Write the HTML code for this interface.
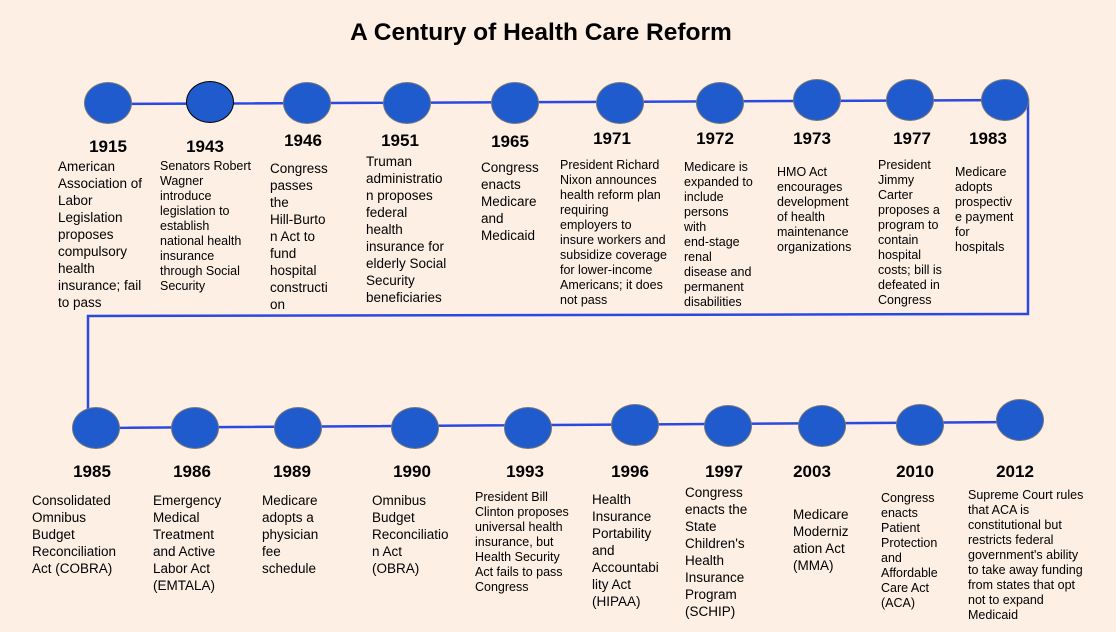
<!DOCTYPE html>
<html><head><meta charset="utf-8">
<style>
body{margin:0;width:1116px;height:632px;background:#fdefe4;position:relative;overflow:hidden;font-family:"Liberation Sans",Arial,sans-serif;color:#000}
.t{position:absolute;white-space:nowrap;font-size:13.5px;line-height:17px}
.s{font-size:12.5px;line-height:15px}
.y{position:absolute;font-weight:bold;font-size:17px;transform:translateX(-50%)}
.c{position:absolute;width:46px;height:40px;border-radius:50%;background:#1f5bcc;border:1.5px solid #777;transform:translate(-50%,-50%)}
h1{position:absolute;left:0;width:1082px;top:19px;margin:0;text-align:center;font-size:24.5px;font-weight:bold}
</style></head><body>
<h1>A Century of Health Care Reform</h1>
<svg width="1116" height="632" style="position:absolute;left:0;top:0">
<polyline points="108,104 1028,100 1028,314 88,316 88,428 1020,422" fill="none" stroke="#2a49e0" stroke-width="2.5"/>
</svg>
<div class="c" style="left:108px;top:103px"></div>
<div class="c" style="left:210px;top:102px;border-color:#000"></div>
<div class="c" style="left:307px;top:103px"></div>
<div class="c" style="left:407px;top:103px"></div>
<div class="c" style="left:515px;top:103px"></div>
<div class="c" style="left:620px;top:103px"></div>
<div class="c" style="left:720px;top:103px"></div>
<div class="c" style="left:817px;top:100px"></div>
<div class="c" style="left:910px;top:100px"></div>
<div class="c" style="left:1005px;top:100px"></div>
<div class="c" style="left:96px;top:428px"></div>
<div class="c" style="left:195px;top:428px"></div>
<div class="c" style="left:298px;top:428px"></div>
<div class="c" style="left:415px;top:428px"></div>
<div class="c" style="left:528px;top:428px"></div>
<div class="c" style="left:635px;top:425px"></div>
<div class="c" style="left:728px;top:426px"></div>
<div class="c" style="left:822px;top:426px"></div>
<div class="c" style="left:920px;top:425px"></div>
<div class="c" style="left:1020px;top:420px"></div>

<div class="y" style="left:108px;top:137px">1915</div>
<div class="y" style="left:205px;top:137px">1943</div>
<div class="y" style="left:303px;top:131px">1946</div>
<div class="y" style="left:400px;top:131px">1951</div>
<div class="y" style="left:510px;top:132px">1965</div>
<div class="y" style="left:612px;top:129px">1971</div>
<div class="y" style="left:715px;top:129px">1972</div>
<div class="y" style="left:812px;top:129px">1973</div>
<div class="y" style="left:912px;top:129px">1977</div>
<div class="y" style="left:988px;top:129px">1983</div>
<div class="y" style="left:92px;top:462px">1985</div>
<div class="y" style="left:192px;top:462px">1986</div>
<div class="y" style="left:292px;top:462px">1989</div>
<div class="y" style="left:412px;top:462px">1990</div>
<div class="y" style="left:525px;top:462px">1993</div>
<div class="y" style="left:630px;top:462px">1996</div>
<div class="y" style="left:724px;top:462px">1997</div>
<div class="y" style="left:812px;top:462px">2003</div>
<div class="y" style="left:915px;top:462px">2010</div>
<div class="y" style="left:1015px;top:462px">2012</div>

<div class="t" style="left:58px;top:158px">American<br>Association of<br>Labor<br>Legislation<br>proposes<br>compulsory<br>health<br>insurance; fail<br>to pass</div>
<div class="t s" style="left:160px;top:159px">Senators Robert<br>Wagner<br>introduce<br>legislation to<br>establish<br>national health<br>insurance<br>through Social<br>Security</div>
<div class="t" style="left:270px;top:160px">Congress<br>passes<br>the<br>Hill-Burto<br>n Act to<br>fund<br>hospital<br>constructi<br>on</div>
<div class="t" style="left:366px;top:153px">Truman<br>administratio<br>n proposes<br>federal<br>health<br>insurance for<br>elderly Social<br>Security<br>beneficiaries</div>
<div class="t" style="left:481px;top:159px">Congress<br>enacts<br>Medicare<br>and<br>Medicaid</div>
<div class="t s" style="left:560px;top:158px">President Richard<br>Nixon announces<br>health reform plan<br>requiring<br>employers to<br>insure workers and<br>subsidize coverage<br>for lower-income<br>Americans; it does<br>not pass</div>
<div class="t s" style="left:684px;top:160px">Medicare is<br>expanded to<br>include<br>persons<br>with<br>end-stage<br>renal<br>disease and<br>permanent<br>disabilities</div>
<div class="t s" style="left:777px;top:165px">HMO Act<br>encourages<br>development<br>of health<br>maintenance<br>organizations</div>
<div class="t s" style="left:878px;top:158px">President<br>Jimmy<br>Carter<br>proposes a<br>program to<br>contain<br>hospital<br>costs; bill is<br>defeated in<br>Congress</div>
<div class="t s" style="left:955px;top:165px">Medicare<br>adopts<br>prospectiv<br>e payment<br>for<br>hospitals</div>

<div class="t" style="left:32px;top:492px">Consolidated<br>Omnibus<br>Budget<br>Reconciliation<br>Act (COBRA)</div>
<div class="t" style="left:153px;top:492px">Emergency<br>Medical<br>Treatment<br>and Active<br>Labor Act<br>(EMTALA)</div>
<div class="t" style="left:262px;top:492px">Medicare<br>adopts a<br>physician<br>fee<br>schedule</div>
<div class="t" style="left:372px;top:492px">Omnibus<br>Budget<br>Reconciliatio<br>n Act<br>(OBRA)</div>
<div class="t s" style="left:475px;top:490px">President Bill<br>Clinton proposes<br>universal health<br>insurance, but<br>Health Security<br>Act fails to pass<br>Congress</div>
<div class="t" style="left:592px;top:491px">Health<br>Insurance<br>Portability<br>and<br>Accountabi<br>lity Act<br>(HIPAA)</div>
<div class="t" style="left:685px;top:484px">Congress<br>enacts the<br>State<br>Children's<br>Health<br>Insurance<br>Program<br>(SCHIP)</div>
<div class="t" style="left:793px;top:506px">Medicare<br>Moderniz<br>ation Act<br>(MMA)</div>
<div class="t s" style="left:881px;top:491px">Congress<br>enacts<br>Patient<br>Protection<br>and<br>Affordable<br>Care Act<br>(ACA)</div>
<div class="t s" style="left:968px;top:488px">Supreme Court rules<br>that ACA is<br>constitutional but<br>restricts federal<br>government's ability<br>to take away funding<br>from states that opt<br>not to expand<br>Medicaid</div>
</body></html>
